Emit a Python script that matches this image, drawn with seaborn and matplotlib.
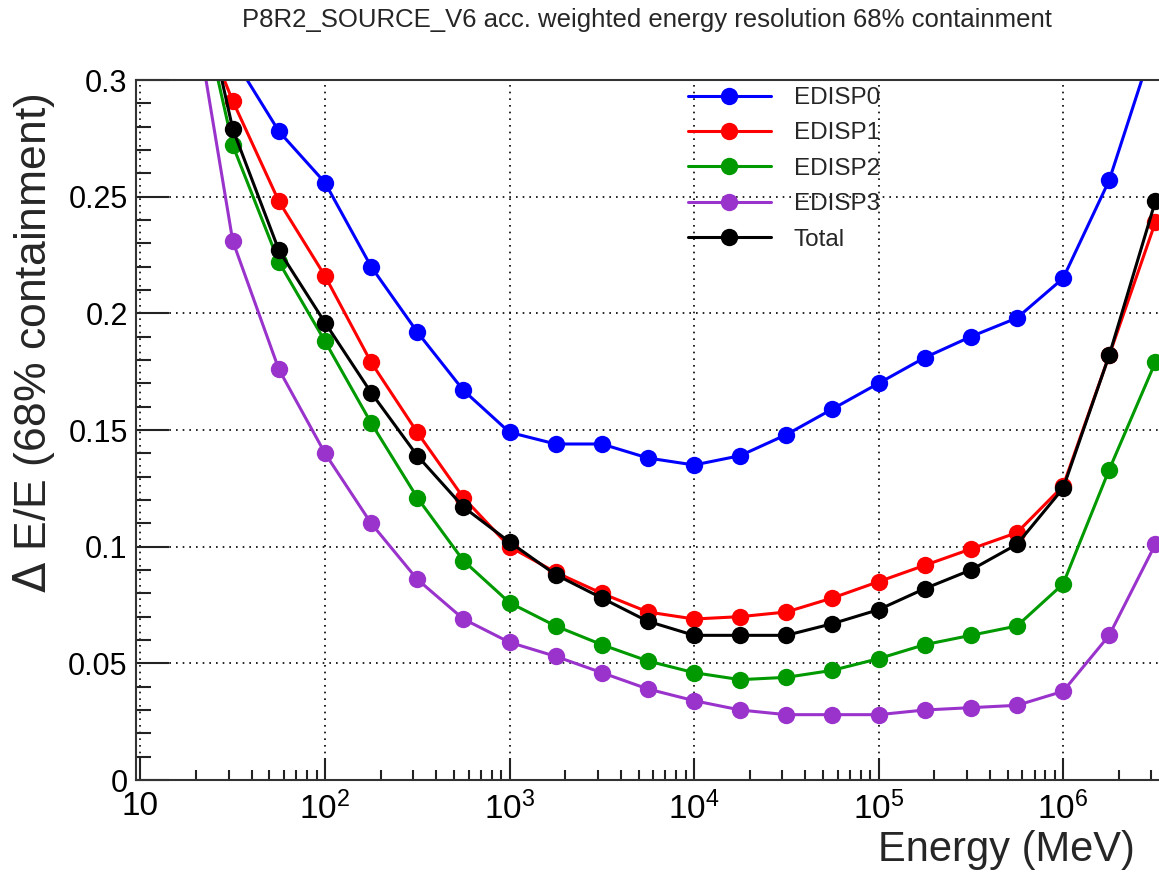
import pandas as pd
import matplotlib
matplotlib.use('Agg')
import matplotlib.pyplot as plt
import matplotlib.ticker as mticker
import seaborn as sns

# energy bin centres (MeV), quarter-decade steps
energy = [17.78, 31.62, 56.23, 100, 177.8, 316.2, 562.3, 1000, 1778, 3162, 5623,
          1e4, 1.778e4, 3.162e4, 5.623e4, 1e5, 1.778e5, 3.162e5, 5.623e5,
          1e6, 1.778e6, 3.162e6]

# 68% containment energy resolution per event type
edisp0 = [0.310, 0.278, 0.256, 0.220, 0.192, 0.167, 0.149, 0.144, 0.144, 0.138, 0.135,
          0.139, 0.148, 0.159, 0.170, 0.181, 0.190, 0.198, 0.215, 0.257, 0.318]
edisp1 = [0.340, 0.291, 0.248, 0.216, 0.179, 0.149, 0.121, 0.100, 0.089, 0.080, 0.072,
          0.069, 0.070, 0.072, 0.078, 0.085, 0.092, 0.099, 0.106, 0.126, 0.182, 0.239]
edisp2 = [0.360, 0.272, 0.222, 0.188, 0.153, 0.121, 0.094, 0.076, 0.066, 0.058, 0.051,
          0.046, 0.043, 0.044, 0.047, 0.052, 0.058, 0.062, 0.066, 0.084, 0.133, 0.179]
edisp3 = [0.350, 0.231, 0.176, 0.140, 0.110, 0.086, 0.069, 0.059, 0.053, 0.046, 0.039,
          0.034, 0.030, 0.028, 0.028, 0.028, 0.030, 0.031, 0.032, 0.038, 0.062, 0.101]
total = [0.368, 0.279, 0.227, 0.196, 0.166, 0.139, 0.117, 0.102, 0.088, 0.078, 0.068,
         0.062, 0.062, 0.062, 0.067, 0.073, 0.082, 0.090, 0.101, 0.125, 0.182, 0.248]

series_names = ['EDISP0', 'EDISP1', 'EDISP2', 'EDISP3', 'Total']
colors = {'EDISP0': '#0000ff', 'EDISP1': '#ff0000', 'EDISP2': '#009900',
          'EDISP3': '#9933cc', 'Total': '#000000'}

y_ticks = [0, 0.05, 0.1, 0.15, 0.2, 0.25, 0.3]
y_tick_labels = ['0', '0.05', '0.1', '0.15', '0.2', '0.25', '0.3']
x_ticks = [10, 1e2, 1e3, 1e4, 1e5, 1e6]
x_tick_labels = ['10', r'$\mathregular{10^{2}}$', r'$\mathregular{10^{3}}$',
                 r'$\mathregular{10^{4}}$', r'$\mathregular{10^{5}}$',
                 r'$\mathregular{10^{6}}$']

# long table for seaborn (EDISP0 starts one bin later)
rows = []
for name, vals in zip(series_names, [edisp0, edisp1, edisp2, edisp3, total]):
    xs = energy[len(energy) - len(vals):]
    for e, v in zip(xs, vals):
        rows.append({'energy': e, 'res': v, 'series': name})
df = pd.DataFrame(rows)

sns.set_style('ticks')
plt.rcParams['font.family'] = ['Liberation Sans', 'DejaVu Sans']
plt.rcParams['mathtext.fontset'] = 'custom'

fig = plt.figure(figsize=(11.59, 8.72), dpi=100)
ax = fig.add_axes([136 / 1159, 92 / 872, 1023 / 1159, 700 / 872])

sns.lineplot(data=df, x='energy', y='res', hue='series', hue_order=series_names,
             palette=colors, marker='o', markersize=12.5, markeredgewidth=0,
             linewidth=2.2, ax=ax, sort=True)

ax.set_xscale('log')
ax.set_xlim(9.454, 3.31e6)
ax.set_ylim(0, 0.3)

ax.set_xticks(x_ticks)
ax.set_xticklabels(x_tick_labels)
ax.xaxis.set_minor_locator(mticker.LogLocator(base=10, subs=range(2, 10), numticks=20))
ax.xaxis.set_minor_formatter(mticker.NullFormatter())
ax.set_yticks(y_ticks)
ax.set_yticklabels(y_tick_labels)
ax.yaxis.set_minor_locator(mticker.MultipleLocator(0.01))

ax.tick_params(axis='both', which='both', direction='in', colors='#222222',
               width=1.5, labelsize=22, labelcolor='black')
ax.tick_params(axis='x', labelsize=24)
ax.tick_params(axis='y', which='major', length=24, pad=6)
ax.tick_params(axis='y', which='minor', length=11)
ax.tick_params(axis='x', which='major', length=16, pad=8)
ax.tick_params(axis='x', which='minor', length=7)

ax.grid(True, which='major', linestyle=(0, (1, 3)), color='black', linewidth=1.2)
for side in ['left', 'bottom', 'top']:
    ax.spines[side].set_linewidth(1.5)
    ax.spines[side].set_color('#333333')
ax.spines['right'].set_visible(False)

ax.set_xlabel('')
ax.set_ylabel('')
fig.text(0.029, 1 - 93 / 872, r'$\Delta$ E/E (68% containment)', rotation=90,
         ha='center', va='top', fontsize=32)
fig.text(1135 / 1159, 1 - 830 / 872, 'Energy (MeV)', ha='right', va='top', fontsize=30)
fig.text(647 / 1159, 1 - 8 / 872, 'P8R2_SOURCE_V6 acc. weighted energy resolution 68% containment',
         ha='center', va='top', fontsize=18.5)

handles, labels = ax.get_legend_handles_labels()
ax.legend(handles, labels, loc='upper left', bbox_to_anchor=(688 / 1159, 1 - 87 / 872),
          bbox_transform=fig.transFigure, frameon=False, fontsize=17.5,
          handlelength=3.4, handletextpad=0.95, labelspacing=0.55,
          borderpad=0, borderaxespad=0)

fig.savefig('out.png', dpi=100)
